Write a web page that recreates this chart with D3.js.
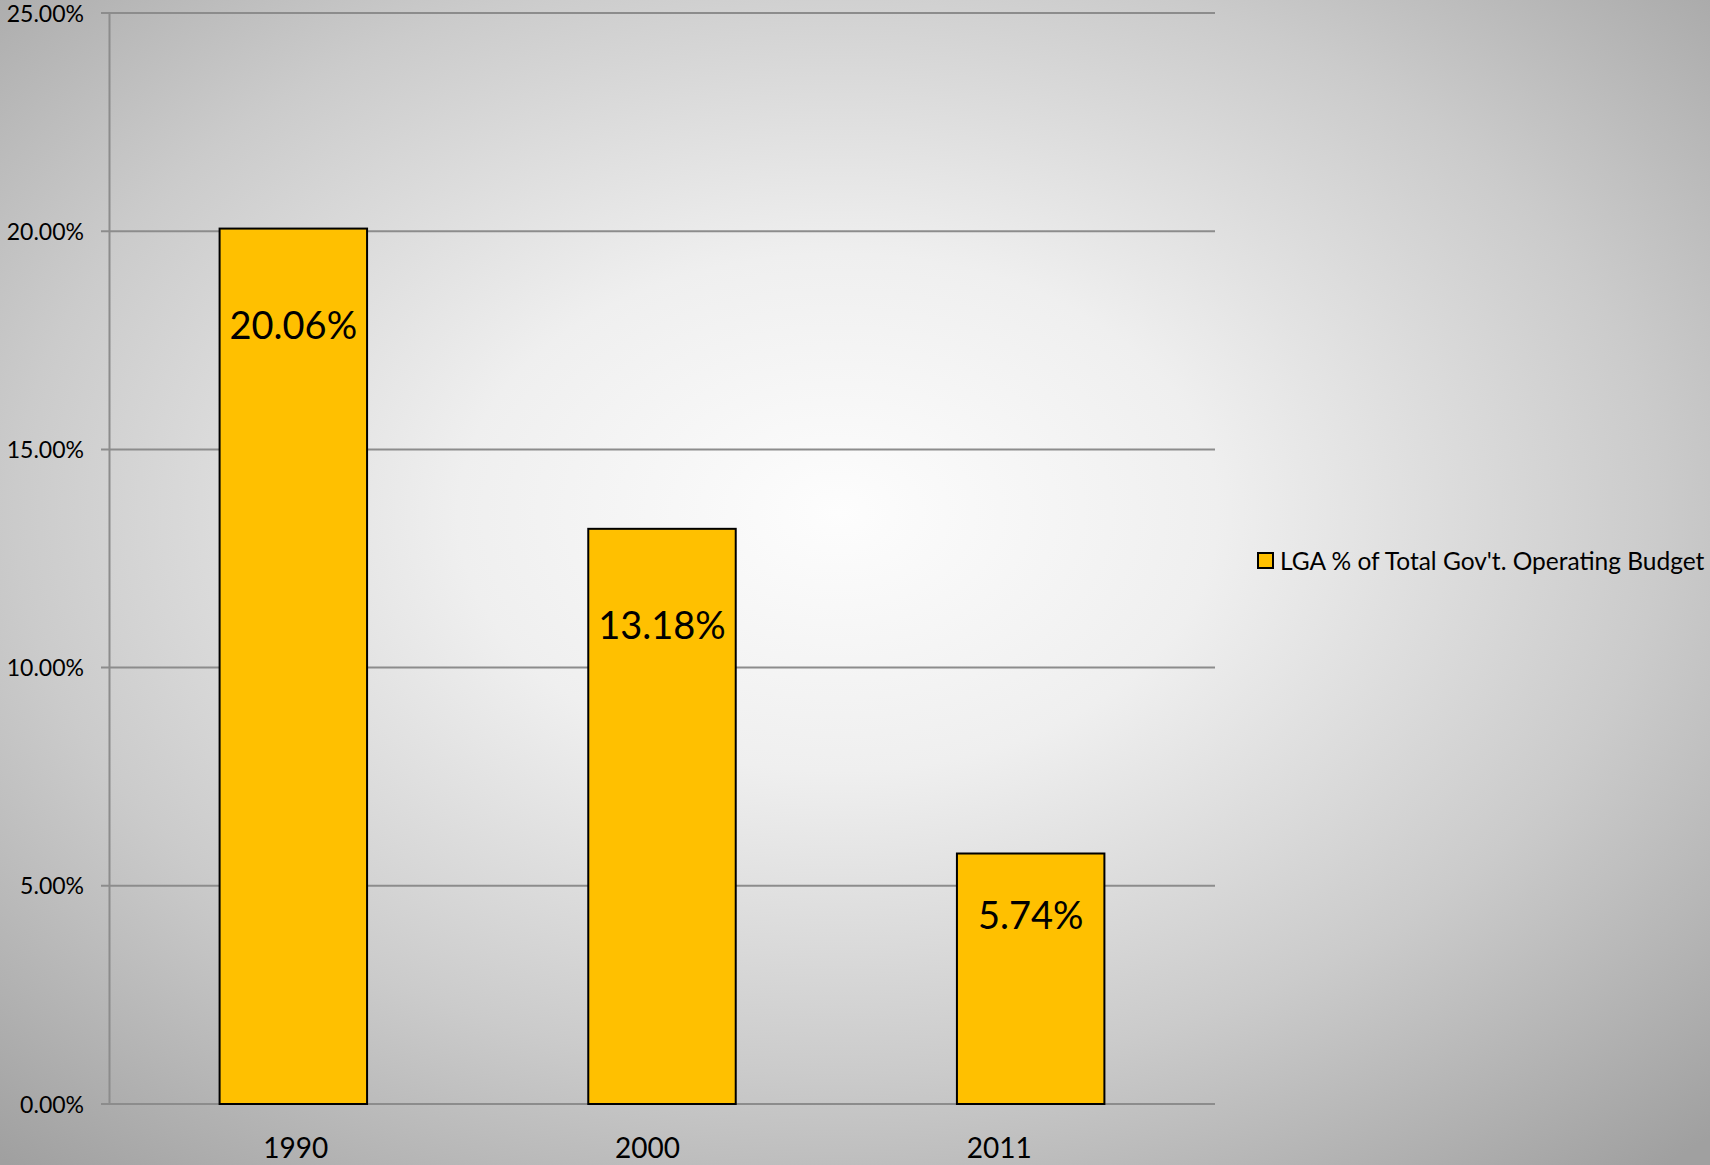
<!DOCTYPE html>
<html>
<head>
<meta charset="utf-8">
<script src="https://cdn.jsdelivr.net/npm/d3@7"></script>
<style>
  body { margin: 0; background: #ffffff; }
  text { font-family: Lato, "Open Sans", sans-serif; fill: #000; }
</style>
</head>
<body>
<div id="chart"></div>
<script>
// chart values
var years = ["1990", "2000", "2011"];
var shares = [0.2006, 0.1318, 0.0574];
var yTicks = [0, 0.05, 0.10, 0.15, 0.20, 0.25];
var seriesName = "LGA % of Total Gov't. Operating Budget";

var width = 1710, height = 1165;
var plot = { left: 109, right: 1215, top: 13, bottom: 1104 };

var svg = d3.select("#chart").append("svg")
    .attr("width", width)
    .attr("height", height);

// background, radial grey fill like the original
var grad = svg.append("defs").append("radialGradient")
    .attr("id", "bg")
    .attr("cx", "49%").attr("cy", "44%")
    .attr("r", "74%");
grad.append("stop").attr("offset", "0").attr("stop-color", "#fdfdfd");
grad.append("stop").attr("offset", "0.3").attr("stop-color", "#efefef");
grad.append("stop").attr("offset", "0.65").attr("stop-color", "#cbcbcb");
grad.append("stop").attr("offset", "1").attr("stop-color", "#a0a0a0");

svg.append("rect")
    .attr("width", width)
    .attr("height", height)
    .attr("fill", "url(#bg)");

var y = d3.scaleLinear()
    .domain([0, 0.25])
    .range([plot.bottom, plot.top]);

var x = d3.scaleBand()
    .domain(years)
    .range([plot.left, plot.right])
    .padding(0);

// excel puts the category labels slightly off the bars
var xLabels = d3.scaleBand()
    .domain(years)
    .range([120, 1175]);

// gridlines
svg.append("g")
    .selectAll("line")
    .data(yTicks)
    .enter()
    .append("line")
    .attr("x1", plot.left - 8)
    .attr("x2", plot.right)
    .attr("y1", function (d) { return y(d); })
    .attr("y2", function (d) { return y(d); })
    .attr("stroke", "#8c8c8c")
    .attr("stroke-width", 2);

// y axis
var yAxis = d3.axisLeft(y)
    .tickValues(yTicks)
    .tickFormat(d3.format(".2%"))
    .tickSize(0)
    .tickPadding(25);

var gy = svg.append("g")
    .attr("transform", "translate(" + plot.left + ",0)")
    .call(yAxis);
gy.select(".domain").attr("stroke", "#8c8c8c").attr("stroke-width", 2);
gy.selectAll("text")
    .style("font-size", "23px")
    .attr("dy", "0.35em");

// bars
var barW = x.bandwidth() * 0.4;
svg.append("g")
    .selectAll("rect")
    .data(shares)
    .enter()
    .append("rect")
    .attr("x", function (d, i) { return x(years[i]) + (x.bandwidth() - barW) / 2; })
    .attr("y", function (d) { return y(d); })
    .attr("width", barW)
    .attr("height", function (d) { return y(0) - y(d); })
    .attr("fill", "#ffc000")
    .attr("stroke", "#000")
    .attr("stroke-width", 2);

// data labels inside the bars
svg.append("g")
    .selectAll("text")
    .data(shares)
    .enter()
    .append("text")
    .attr("x", function (d, i) { return x(years[i]) + x.bandwidth() / 2; })
    .attr("y", function (d) {
        var h = y(0) - y(d);
        return y(d) + Math.min(97, h * 0.25);
    })
    .attr("dy", "0.35em")
    .attr("text-anchor", "middle")
    .style("font-size", "38px")
    .text(function (d) { return d3.format(".2%")(d); });

// x axis labels
var xAxis = d3.axisBottom(xLabels).tickSize(0).tickPadding(0);
var gx = svg.append("g")
    .attr("transform", "translate(0," + (plot.bottom + 34) + ")")
    .call(xAxis);
gx.select(".domain").remove();
gx.selectAll("text")
    .style("font-size", "28px")
    .attr("dy", "0.71em");

// legend
var legend = svg.append("g").attr("transform", "translate(1258,553)");
legend.append("rect")
    .attr("width", 15)
    .attr("height", 15)
    .attr("fill", "#ffc000")
    .attr("stroke", "#000")
    .attr("stroke-width", 2);
legend.append("text")
    .attr("x", 22)
    .attr("y", 8)
    .attr("dy", "0.35em")
    .style("font-size", "24.5px")
    .text(seriesName);
</script>
</body>
</html>
